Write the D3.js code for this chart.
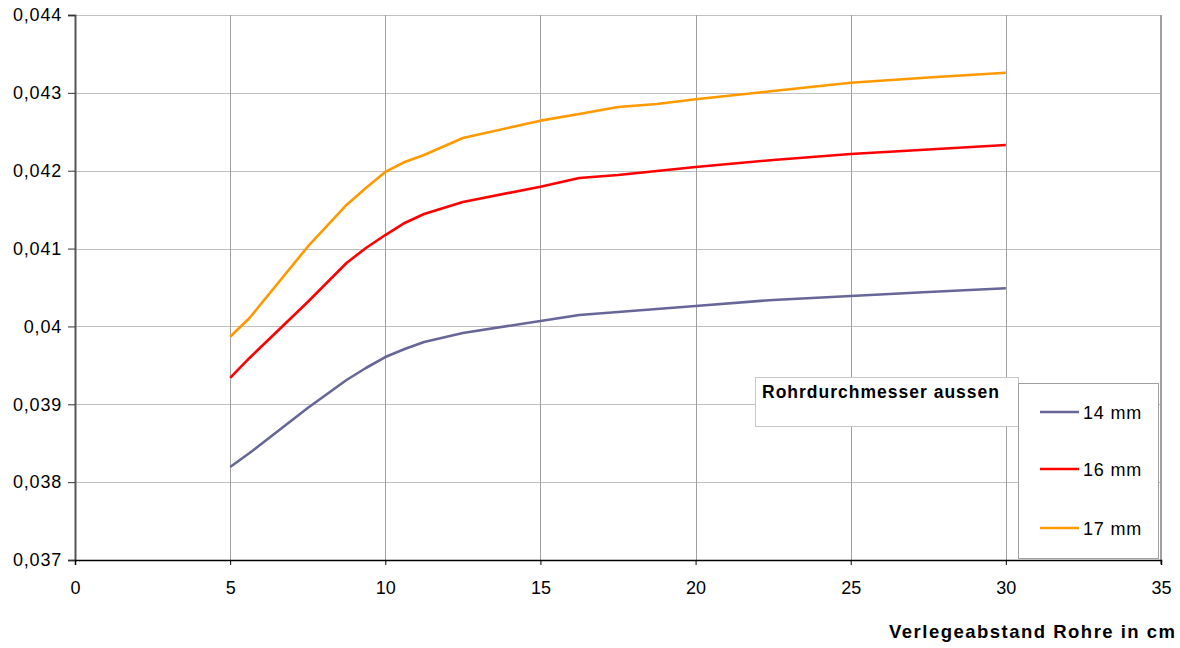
<!DOCTYPE html>
<html>
<head>
<meta charset="utf-8">
<script src="https://cdn.jsdelivr.net/npm/d3@7"></script>
<style>
  html, body { margin: 0; padding: 0; background: #fff; }
  svg { display: block; font-family: "Liberation Sans", Arial, sans-serif; }
</style>
</head>
<body>
<svg id="chart" width="1180" height="648"></svg>
<script>
// Pipe spacing (cm)
const spacing = [5, 5.625, 7.5, 8.75, 9.375, 10, 10.625, 11.25, 12.5, 15, 16.25, 17.5, 18.75, 20, 22.5, 25, 27.5, 30];

// Values per outer pipe diameter
const mm14 = [0.038195, 0.038374, 0.038952, 0.039312, 0.039466, 0.039607, 0.039710, 0.039800, 0.039916, 0.040070, 0.040147, 0.040186, 0.040224, 0.040263, 0.040340, 0.040391, 0.040442, 0.040490];
const mm16 = [0.039338, 0.039595, 0.040314, 0.040815, 0.041007, 0.041174, 0.041329, 0.041444, 0.041598, 0.041795, 0.041906, 0.041945, 0.041996, 0.042048, 0.042138, 0.042215, 0.042273, 0.042330];
const mm17 = [0.039868, 0.040108, 0.041024, 0.041560, 0.041778, 0.041984, 0.042112, 0.042202, 0.042420, 0.042643, 0.042728, 0.042818, 0.042857, 0.042917, 0.043024, 0.043130, 0.043197, 0.043259];

const seriesNames = ["14 mm", "16 mm", "17 mm"];
const seriesColors = ["#666699", "#ff0000", "#ff9900"];
const xTicks = [0, 5, 10, 15, 20, 25, 30, 35];
const yTicks = [0.037, 0.038, 0.039, 0.040, 0.041, 0.042, 0.043, 0.044];
const yTickLabels = ["0,037", "0,038", "0,039", "0,04", "0,041", "0,042", "0,043", "0,044"];

const svg = d3.select("#chart");
const plotL = 75, plotR = 1161, plotT = 15, plotB = 560;
const FONT = "'Liberation Sans', Arial, sans-serif";

const x = d3.scaleLinear().domain([0, 35]).range([plotL, plotR]);
const y = d3.scaleLinear().domain([0.037, 0.044]).range([plotB, plotT]);

// Horizontal grid
svg.append("g").selectAll("line").data(yTicks.slice(1)).join("line")
  .attr("x1", plotL).attr("x2", plotR)
  .attr("y1", d => Math.round(y(d)) + 0.5).attr("y2", d => Math.round(y(d)) + 0.5)
  .attr("stroke", "#c0c0c0").attr("stroke-width", 1.2);

// Vertical grid
svg.append("g").selectAll("line").data(xTicks.slice(1, -1)).join("line")
  .attr("x1", d => Math.round(x(d)) + 0.5).attr("x2", d => Math.round(x(d)) + 0.5)
  .attr("y1", plotT).attr("y2", plotB)
  .attr("stroke", "#a0a0a0").attr("stroke-width", 1);

// Right border
svg.append("line").attr("x1", plotR).attr("x2", plotR).attr("y1", plotT).attr("y2", plotB + 4)
  .attr("stroke", "#a0a0a0").attr("stroke-width", 2);

// Y axis
const yAxis = d3.axisLeft(y).tickValues(yTicks)
  .tickFormat((d, i) => yTickLabels[i]).tickSize(7).tickPadding(6);
const gy = svg.append("g").attr("transform", `translate(${plotL},0)`).call(yAxis);
gy.select(".domain").attr("stroke", "#555").attr("stroke-width", 2);
gy.selectAll(".tick line").attr("stroke", "#333");
gy.selectAll(".tick text").attr("font-size", 18).attr("fill", "#000")
  .attr("letter-spacing", 0.8).attr("font-family", FONT);

// X axis
const xAxis = d3.axisBottom(x).tickValues(xTicks).tickSize(5).tickPadding(16);
const gx = svg.append("g").attr("transform", `translate(0,${plotB})`).call(xAxis);
gx.select(".domain").attr("stroke", "#000").attr("stroke-width", 1.5);
gx.selectAll(".tick line").attr("stroke", "#000");
gx.selectAll(".tick text").attr("font-size", 18).attr("fill", "#000")
  .attr("font-family", FONT);

// X axis title
svg.append("text").attr("x", 889).attr("y", 638)
  .attr("font-size", 18.5).attr("font-weight", "bold")
  .attr("textLength", 286).attr("lengthAdjust", "spacing")
  .text("Verlegeabstand Rohre in cm");

// Lines
const line = d3.line().x(d => x(d[0])).y(d => y(d[1]));
[mm14, mm16, mm17].forEach((vals, i) => {
  svg.append("path")
    .datum(spacing.map((s, j) => [s, vals[j]]))
    .attr("d", line)
    .attr("fill", "none")
    .attr("stroke", seriesColors[i])
    .attr("stroke-width", 2.6)
    .attr("stroke-linejoin", "round");
});

// Legend title box
svg.append("rect").attr("x", 755.5).attr("y", 377.5).attr("width", 263).attr("height", 49)
  .attr("fill", "#fff").attr("stroke", "#c8c8c8").attr("stroke-width", 1);
svg.append("text").attr("x", 762).attr("y", 398).attr("font-size", 17.5)
  .attr("font-weight", "bold")
  .attr("textLength", 237).attr("lengthAdjust", "spacing")
  .text("Rohrdurchmesser aussen");

// Legend box
svg.append("rect").attr("x", 1018.5).attr("y", 383.5).attr("width", 140).attr("height", 175)
  .attr("fill", "#fff").attr("stroke", "#a0a0a0").attr("stroke-width", 1);
const legY = [412, 469, 528];
const leg = svg.append("g").selectAll("g").data(seriesNames).join("g")
  .attr("transform", (d, i) => `translate(0,${legY[i]})`);
leg.append("line").attr("x1", 1040).attr("x2", 1079).attr("y1", 0).attr("y2", 0)
  .attr("stroke", (d, i) => seriesColors[i]).attr("stroke-width", 2.6);
leg.append("text").attr("x", 1083).attr("y", 6.5).attr("font-size", 18)
  .attr("letter-spacing", 0.8).text(d => d);
</script>
</body>
</html>
